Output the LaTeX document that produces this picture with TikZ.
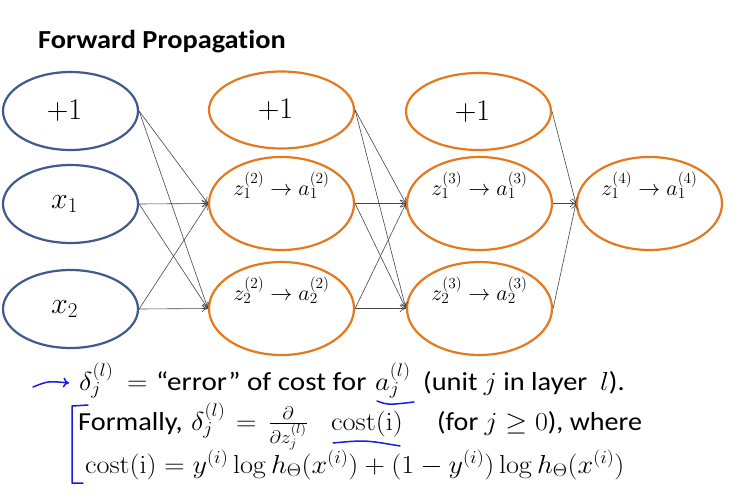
\RequirePackage{fix-cm}
\documentclass[tikz,border=0pt]{standalone}
\usepackage[no-math]{fontspec}
\setmainfont{Carlito}[Ligatures={NoCommon}]
\usetikzlibrary{shapes.geometric,arrows.meta}
\definecolor{nblue}{RGB}{64,90,140}
\definecolor{norange}{RGB}{228,122,32}
\definecolor{penblue}{RGB}{25,30,220}
\definecolor{edgegray}{RGB}{70,70,70}
\newcommand{\wide}[1]{\scalebox{1.09}[1]{#1}}
\newcommand{\lft}[1]{\hspace*{-12pt}#1}
\begin{document}
\begin{tikzpicture}[x=1pt,y=-1pt,
  inbox/.style={ellipse,draw=nblue,line width=2.2pt,minimum width=135pt,minimum height=78pt,inner sep=0pt,font=\fontsize{30}{34}\selectfont},
  biasbox/.style={ellipse,draw=norange,line width=2.2pt,minimum width=145pt,minimum height=77pt,inner sep=0pt,font=\fontsize{30}{34}\selectfont},
  unitbox/.style={ellipse,draw=norange,line width=2.2pt,minimum width=145pt,minimum height=93pt,inner sep=0pt,font=\fontsize{22}{26}\selectfont,text height=10pt,text depth=27pt},
  conn/.style={draw=edgegray,line width=0.6pt,-{To[length=6pt,width=7pt]}},
  pen/.style={draw=penblue,line width=1.5pt,line cap=round,line join=round},
  txt/.style={anchor=base west,inner sep=0pt,font=\fontsize{26}{30}\selectfont}
]
\useasboundingbox (0,0) rectangle (755,501);
\fill[white] (0,0) rectangle (755,501);

\node[anchor=base west,inner sep=0pt,font=\fontsize{26}{30}\selectfont\bfseries] (title) at (38,48) {\wide{Forward Propagation}};

% layer 1
\node[inbox] (i0) at (70.5,111) {\lft{$+1$}};
\node[inbox] (i1) at (70.5,204) {\lft{$x_1$}};
\node[inbox] (i2) at (70.5,309) {\lft{$x_2$}};
% layer 2
\node[biasbox] (b2) at (281.5,110) {\lft{$+1$}};
\node[unitbox] (h21) at (281.5,203.5) {$z_1^{(2)}\to a_1^{(2)}$};
\node[unitbox] (h22) at (281.5,308.5) {$z_2^{(2)}\to a_2^{(2)}$};
% layer 3
\node[biasbox] (b3) at (478.5,111.5) {\lft{$+1$}};
\node[unitbox] (h31) at (479.5,203.5) {$z_1^{(3)}\to a_1^{(3)}$};
\node[unitbox] (h32) at (479.5,308.5) {$z_2^{(3)}\to a_2^{(3)}$};
% layer 4
\node[unitbox] (o) at (649.5,203.5) {$z_1^{(4)}\to a_1^{(4)}$};

\foreach \s in {i0,i1,i2}{
  \draw[conn] (\s.east) -- (h21.west);
  \draw[conn] (\s.east) -- (h22.west);
}
\foreach \s in {b2,h21,h22}{
  \draw[conn] (\s.east) -- (h31.west);
  \draw[conn] (\s.east) -- (h32.west);
}
\foreach \s in {b3,h31,h32}{
  \draw[conn] (\s.east) -- (o.west);
}

% line 1
\node[txt] (l1a) at (79,390) {\wide{$\delta_j^{(l)}$}};
\node[txt] (l1b) at (127,390) {\wide{$=$}};
\node[txt] (l1c) at (156,390) {\scalebox{1.12}[1]{“error” of cost for}};
\node[txt] (l1d) at (375,390) {\wide{$a_j^{(l)}$}};
\node[txt] (l1e) at (423,390) {\wide{(unit $j$ in layer\ \ $l$).}};
% line 2
\node[txt] (l2a) at (78,430) {\wide{Formally,}};
\node[txt] (l2b) at (191,430) {\wide{$\delta_j^{(l)}$}};
\node[txt] (l2c) at (236,430) {\wide{$=$}};
\node[txt] (l2d) at (268,430) {\wide{$\frac{\partial}{\partial z_j^{(l)}}$}};
\node[txt] (l2e) at (331,430) {\wide{$\mathrm{cost(i)}$}};
\node[txt] (l2f) at (437,430) {\scalebox{1.08}[1]{(for $j \geq 0$), where}};
% line 3
\node[txt] (l3) at (85,473) {\scalebox{1.085}[1]{$\mathrm{cost(i)} = y^{(i)}\log h_\Theta(x^{(i)}) + (1-y^{(i)})\log h_\Theta(x^{(i)})$}};

% pen annotations
\coordinate (pa) at (33,387);
\coordinate (pb) at (69,383);
\draw[pen,-{To[length=6pt,width=10pt]}] (pa) .. controls (48,381) .. (pb);
\draw[pen] (377,401) .. controls (388,405) .. (414,402);
\draw[pen] (88,405) -- (72,406) -- (72,483) -- (83,483);
\draw[pen] (333,443) .. controls (365,440) .. (400,446);
\end{tikzpicture}
\end{document}
